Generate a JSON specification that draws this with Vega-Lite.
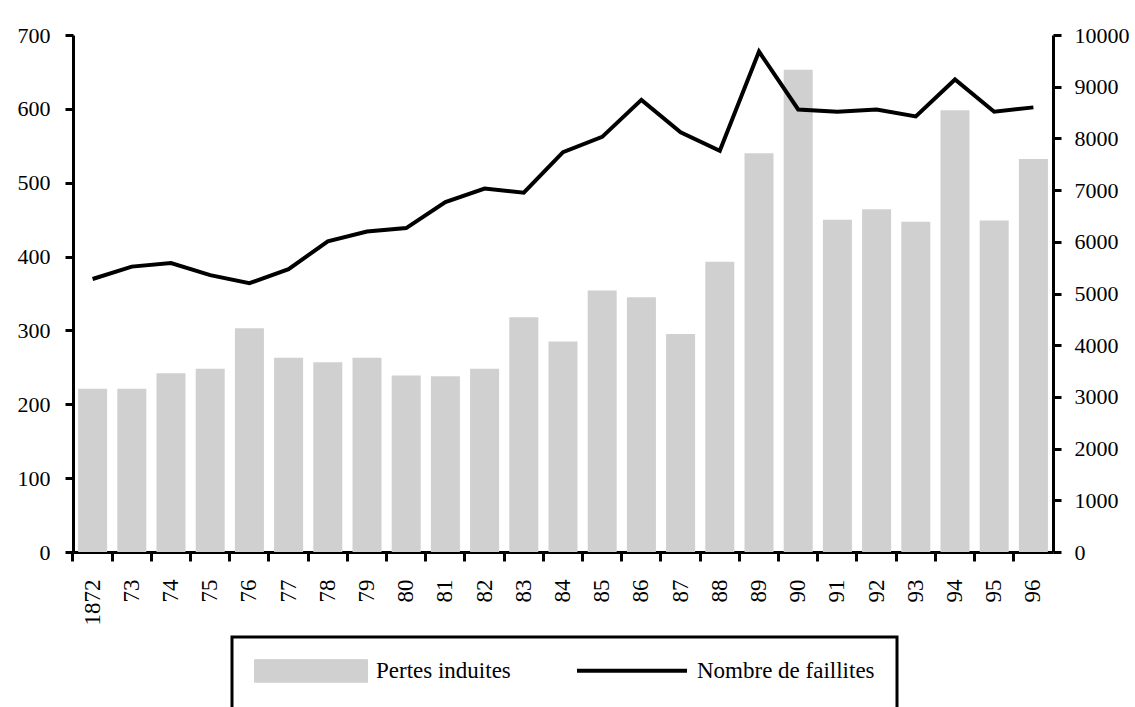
{
  "$schema": "https://vega.github.io/schema/vega-lite/v6.json",
  "width": 980,
  "height": 517,
  "autosize": {"type": "none"},
  "padding": {"left": 73, "top": 35, "right": 82, "bottom": 155},
  "background": "white",
  "config": {
    "view": {"stroke": null},
    "font": "Liberation Serif",
    "axis": {
      "domainColor": "black",
      "domainWidth": 3,
      "tickColor": "black",
      "tickWidth": 3,
      "tickSize": 8,
      "labelFont": "Liberation Serif",
      "labelFontSize": 22,
      "labelColor": "black",
      "grid": false,
      "title": null
    }
  },
  "data": {
    "values": [
      {"annee": "1872", "pertes": 221, "faillites": 5280},
      {"annee": "1873", "pertes": 221, "faillites": 5520},
      {"annee": "1874", "pertes": 242, "faillites": 5590},
      {"annee": "1875", "pertes": 248, "faillites": 5355},
      {"annee": "1876", "pertes": 303, "faillites": 5200},
      {"annee": "1877", "pertes": 263, "faillites": 5470},
      {"annee": "1878", "pertes": 257, "faillites": 6010},
      {"annee": "1879", "pertes": 263, "faillites": 6200},
      {"annee": "1880", "pertes": 239, "faillites": 6265},
      {"annee": "1881", "pertes": 238, "faillites": 6770},
      {"annee": "1882", "pertes": 248, "faillites": 7030},
      {"annee": "1883", "pertes": 318, "faillites": 6950},
      {"annee": "1884", "pertes": 285, "faillites": 7735},
      {"annee": "1885", "pertes": 354, "faillites": 8030},
      {"annee": "1886", "pertes": 345, "faillites": 8745},
      {"annee": "1887", "pertes": 295, "faillites": 8120},
      {"annee": "1888", "pertes": 393, "faillites": 7760},
      {"annee": "1889", "pertes": 540, "faillites": 9680},
      {"annee": "1890", "pertes": 653, "faillites": 8560},
      {"annee": "1891", "pertes": 450, "faillites": 8515},
      {"annee": "1892", "pertes": 464, "faillites": 8560},
      {"annee": "1893", "pertes": 447, "faillites": 8425},
      {"annee": "1894", "pertes": 598, "faillites": 9140},
      {"annee": "1895", "pertes": 449, "faillites": 8515},
      {"annee": "1896", "pertes": 532, "faillites": 8600}
    ]
  },
  "encoding": {
    "x": {
      "field": "annee",
      "type": "ordinal",
      "scale": {"paddingInner": 0.26, "paddingOuter": 0.13},
      "axis": {
        "bandPosition": -0.176,
        "labelAngle": -90,
        "labelPadding": 18,
        "labelFontSize": 23,
        "tickSize": 9,
        "labelExpr": "datum.label == '1872' ? '1872' : slice(datum.label, 2)"
      }
    }
  },
  "layer": [
    {
      "mark": {"type": "bar"},
      "encoding": {
        "y": {
          "field": "pertes",
          "type": "quantitative",
          "scale": {"domain": [0, 700]},
          "axis": {"orient": "left", "values": [0, 100, 200, 300, 400, 500, 600, 700], "labelPadding": 15}
        },
        "color": {
          "datum": "Pertes induites",
          "type": "nominal",
          "scale": {"domain": ["Pertes induites", "Nombre de faillites"], "range": ["#d0d0d0", "#000000"]},
          "legend": {
            "orient": "none",
            "legendX": 159,
            "legendY": 602,
            "direction": "horizontal",
            "columns": 2,
            "columnPadding": 64,
            "title": " ",
            "titleOrient": "bottom",
            "titleFontSize": 30,
            "titlePadding": 8,
            "padding": 22,
            "strokeColor": "black",
            "symbolSize": 12100,
            "clipHeight": 23,
            "labelOffset": 8,
            "labelFont": "Liberation Serif",
            "labelFontSize": 23,
            "labelColor": "black",
            "labelLimit": 400,
            "symbolType": "M-1,-0.21H1V0.21H-1Z",
            "encode": {
              "symbols": {
                "update": {
                  "shape": {"signal": "datum.value === 'Nombre de faillites' ? 'M-1,0H1' : 'M-1,-0.21H1V0.21H-1Z'"},
                  "fill": {"signal": "datum.value === 'Pertes induites' ? '#d0d0d0' : 'transparent'"},
                  "stroke": {"signal": "datum.value === 'Nombre de faillites' ? '#000000' : 'transparent'"},
                  "strokeWidth": {"value": 4},
                  "opacity": {"value": 1}
                }
              },
              "legend": {"update": {"strokeWidth": {"value": 3}}}
            }
          }
        }
      }
    },
    {
      "mark": {"type": "line", "strokeWidth": 4},
      "encoding": {
        "y": {
          "field": "faillites",
          "type": "quantitative",
          "scale": {"domain": [0, 10000]},
          "axis": {"orient": "right", "values": [0, 1000, 2000, 3000, 4000, 5000, 6000, 7000, 8000, 9000, 10000], "labelPadding": 13, "format": "d"}
        },
        "color": {"datum": "Nombre de faillites", "type": "nominal"}
      }
    }
  ],
  "resolve": {"scale": {"y": "independent"}}
}
